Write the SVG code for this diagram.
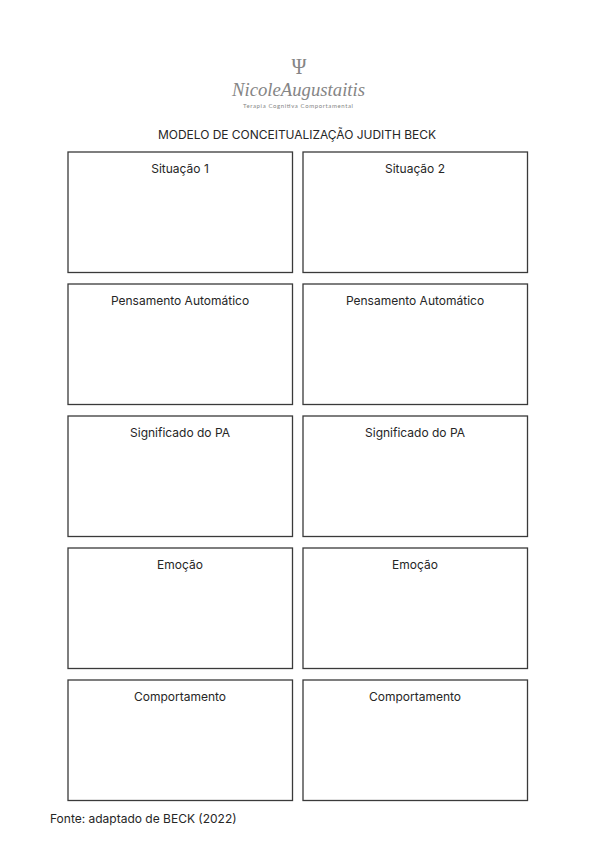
<svg xmlns="http://www.w3.org/2000/svg" width="595" height="842" viewBox="0 0 595 842">
<style>
.b{fill:#fff;stroke:#3a3a3a;stroke-width:1.3}
.t{font-family:Inter,"Liberation Sans",sans-serif;font-size:12px;fill:#262626;text-anchor:middle}
.logo{fill:#858585}
</style>
<rect width="595" height="842" fill="#fff"/>
<g id="logo">
<text class="logo" x="299" y="74" font-family="'Liberation Serif',serif" font-size="24" text-anchor="middle" textLength="15" lengthAdjust="spacingAndGlyphs">Ψ</text>
<text class="logo" x="232" y="96" font-family="'Liberation Serif',serif" font-style="italic" font-size="18" textLength="133" lengthAdjust="spacingAndGlyphs">NicoleAugustaitis</text>
<text class="logo" x="298" y="107.5" font-family="Lato,sans-serif" font-size="6" text-anchor="middle" textLength="110" lengthAdjust="spacing">Terapia Cognitiva Comportamental</text>
</g>
<text id="title" class="t" x="297" y="138.5" textLength="278" lengthAdjust="spacing">MODELO DE CONCEITUALIZAÇÃO JUDITH BECK</text>
<g id="s1"><rect class="b" x="68" y="152" width="224.5" height="120.5"/><text class="t" x="180" y="173.4">Situação 1</text></g>
<g id="s2"><rect class="b" x="303" y="152" width="224.5" height="120.5"/><text class="t" x="415" y="173.4">Situação 2</text></g>
<g id="p1"><rect class="b" x="68" y="284" width="224.5" height="120.5"/><text class="t" x="180" y="305.4">Pensamento Automático</text></g>
<g id="p2"><rect class="b" x="303" y="284" width="224.5" height="120.5"/><text class="t" x="415" y="305.4">Pensamento Automático</text></g>
<g id="m1"><rect class="b" x="68" y="416" width="224.5" height="120.5"/><text class="t" x="180" y="437.4">Significado do PA</text></g>
<g id="m2"><rect class="b" x="303" y="416" width="224.5" height="120.5"/><text class="t" x="415" y="437.4">Significado do PA</text></g>
<g id="e1"><rect class="b" x="68" y="548" width="224.5" height="120.5"/><text class="t" x="180" y="569.4">Emoção</text></g>
<g id="e2"><rect class="b" x="303" y="548" width="224.5" height="120.5"/><text class="t" x="415" y="569.4">Emoção</text></g>
<g id="c1"><rect class="b" x="68" y="680" width="224.5" height="120.5"/><text class="t" x="180" y="701.4">Comportamento</text></g>
<g id="c2"><rect class="b" x="303" y="680" width="224.5" height="120.5"/><text class="t" x="415" y="701.4">Comportamento</text></g>
<g id="connectors"></g>
<text id="source" class="t" x="50" y="823" style="text-anchor:start">Fonte: adaptado de BECK (2022)</text>
</svg>
